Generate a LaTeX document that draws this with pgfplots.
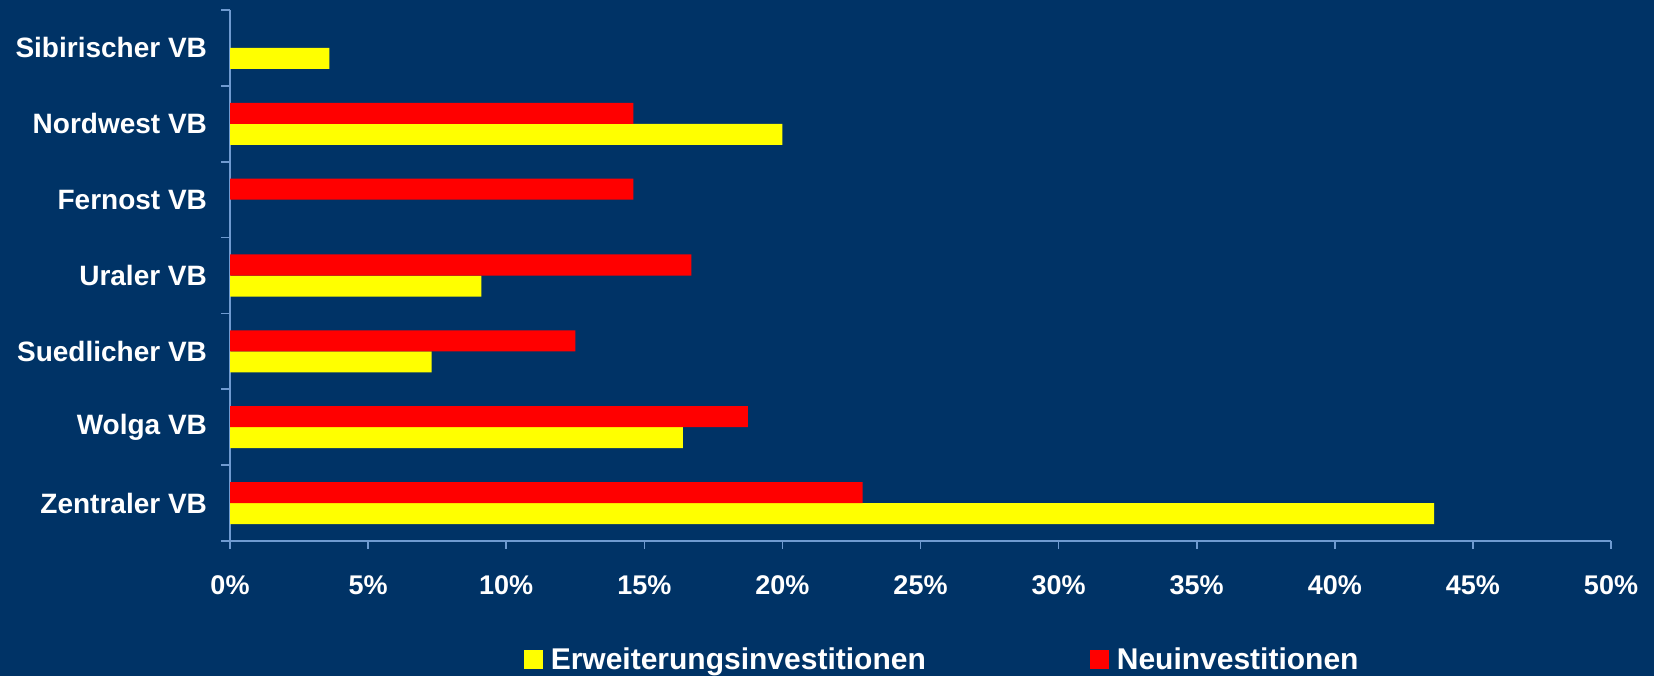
\documentclass[border=0pt]{standalone}
\usepackage{pgfplots}
\pgfplotsset{compat=1.18}
\usepackage{fontspec}
\setmainfont{Liberation Sans}
\definecolor{bg}{HTML}{003366}
\definecolor{axc}{HTML}{6F9BD1}
\definecolor{ylw}{HTML}{FFFF00}
\definecolor{rd}{HTML}{FF0000}
\begin{document}
\begin{tikzpicture}
\fill[bg] (0,0) rectangle (827pt,338pt);
\path[use as bounding box] (0,0) rectangle (827pt,338pt);
\begin{axis}[
  at={(115pt,67.5pt)}, anchor=south west,
  scale only axis, width=690.5pt, height=265.5pt,
  xbar, bar width=0.277,
  xmin=0, xmax=50, ymin=-0.5, ymax=6.5,
  axis x line*=bottom, axis y line*=left,
  axis line style={draw=axc, line width=0.8pt},
  tick align=outside,
  major tick length=4pt, minor tick length=4.5pt,
  xtick={0,5,...,50},
  xticklabels={0\%,5\%,10\%,15\%,20\%,25\%,30\%,35\%,40\%,45\%,50\%},
  x tick style={draw=axc, line width=0.8pt},
  ytick={0,...,6},
  yticklabels={Zentraler VB, Wolga VB, Suedlicher VB, Uraler VB, Fernost VB, Nordwest VB, Sibirischer VB},
  major y tick style={draw=none},
  minor ytick={-0.5,0.5,...,6.5},
  minor y tick style={draw=axc, line width=0.8pt},
  xticklabel style={text=white, font=\bfseries\fontsize{13.5}{16}\selectfont, yshift=-10pt},
  yticklabel style={text=white, font=\bfseries\fontsize{14}{17}\selectfont, xshift=-4pt},
  legend style={at={(0.5164,-0.224)}, anchor=center, draw=none, fill=none, text=white,
    font=\bfseries\fontsize{15}{18}\selectfont, legend columns=2,
    /tikz/every even column/.append style={column sep=80pt}},
  legend cell align=left,
  legend image code/.code={\draw[#1, draw=none] (0pt,-4.75pt) rectangle (9.5pt,4.75pt); \path (11.5pt,0pt);},
]
\addplot[fill=ylw, draw=none, bar shift=-0.1385] coordinates {(43.6,0) (16.4,1) (7.3,2) (9.1,3) (20.0,5) (3.6,6)};
\addplot[fill=rd, draw=none, bar shift=0.1385] coordinates {(22.9,0) (18.75,1) (12.5,2) (16.7,3) (14.6,4) (14.6,5)};
\legend{Erweiterungsinvestitionen, Neuinvestitionen}
\end{axis}
\end{tikzpicture}
\end{document}
